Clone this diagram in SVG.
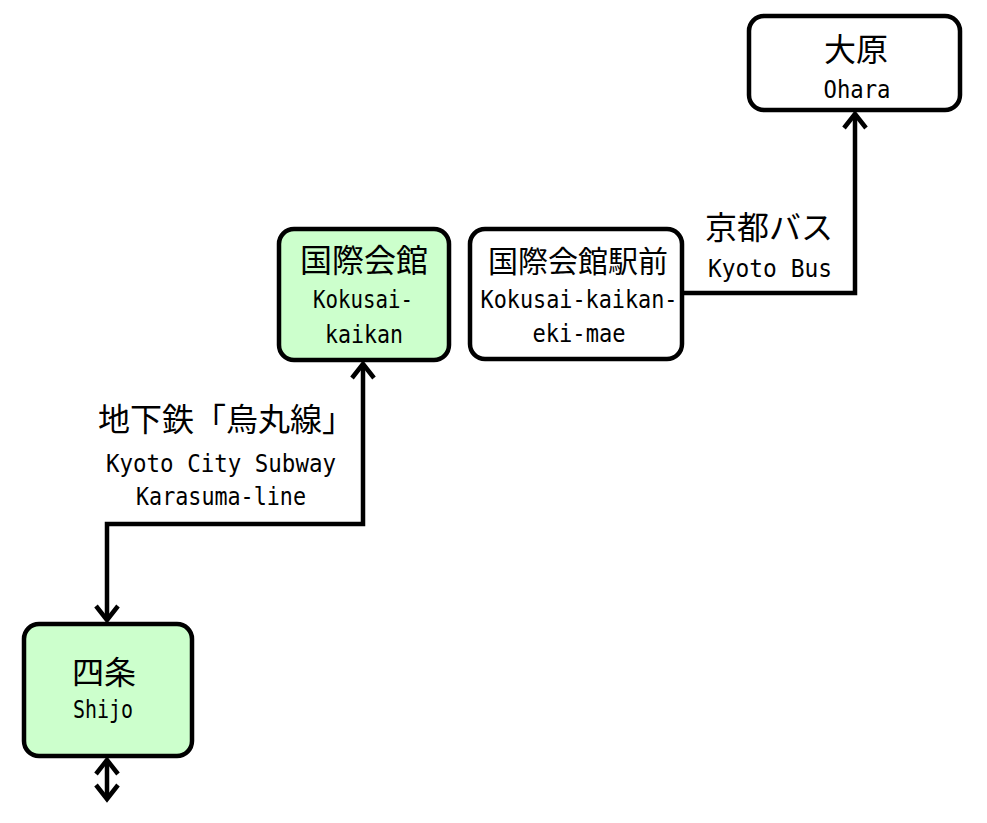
<svg xmlns="http://www.w3.org/2000/svg" width="987" height="823" viewBox="0 0 987 823">
<defs>
<style>
.box{stroke:#000;stroke-width:4.5}
.g{fill:#ccffcc}
.w{fill:#fff}
.jp{font-family:"Noto Sans CJK JP","Noto Sans CJK SC",sans-serif;font-size:32px;fill:#000;text-anchor:middle}
.en{font-family:"DejaVu Sans Mono","Liberation Mono",monospace;font-size:24.5px;fill:#000;text-anchor:middle}
.ln{fill:none;stroke:#000;stroke-width:4.5;marker-start:url(#ah);marker-end:url(#ah)}
.ln1{fill:none;stroke:#000;stroke-width:4.5;marker-end:url(#ah)}
</style>
<marker id="ah" markerUnits="userSpaceOnUse" viewBox="-20 -15 24 30" refX="0" refY="0" markerWidth="24" markerHeight="30" orient="auto-start-reverse">
<path d="M-14,-11 L0,0 L-14,11" fill="none" stroke="#000" stroke-width="4.5"/>
</marker>
</defs>
<rect width="987" height="823" fill="#fff"/>
<g id="connectors">
<path class="ln1" d="M682,293 H855 V114"/>
<path class="ln" d="M107,620 V524 H363 V364"/>
<path class="ln" d="M107,760 V799"/>
</g>
<g id="node-ohara">
<rect class="box w" x="749" y="16" width="211" height="94" rx="15"/>
<text class="jp" x="856" y="61">大原</text>
<text class="en" x="857" y="98" textLength="67" lengthAdjust="spacingAndGlyphs">Ohara</text>
</g>
<g id="node-kokusai-kaikan">
<rect class="box g" x="279" y="229" width="170" height="131" rx="15"/>
<text class="jp" x="364" y="272">国際会館</text>
<text class="en" x="363" y="308" textLength="100" lengthAdjust="spacingAndGlyphs">Kokusai-</text>
<text class="en" x="364" y="343" textLength="78" lengthAdjust="spacingAndGlyphs">kaikan</text>
</g>
<g id="node-ekimae">
<rect class="box w" x="470" y="229" width="212" height="130" rx="15"/>
<text class="jp" x="578" y="272" style="font-size:30px">国際会館駅前</text>
<text class="en" x="579" y="308" textLength="197" lengthAdjust="spacingAndGlyphs">Kokusai-kaikan-</text>
<text class="en" x="579" y="342" textLength="93" lengthAdjust="spacingAndGlyphs">eki-mae</text>
</g>
<g id="label-bus">
<text class="jp" x="769" y="239">京都バス</text>
<text class="en" x="770" y="277" textLength="124" lengthAdjust="spacingAndGlyphs">Kyoto Bus</text>
</g>
<g id="label-subway">
<text class="jp" x="226" y="431">地下鉄「烏丸線」</text>
<text class="en" x="221" y="472" textLength="230" lengthAdjust="spacingAndGlyphs">Kyoto City Subway</text>
<text class="en" x="221" y="505" textLength="170" lengthAdjust="spacingAndGlyphs">Karasuma-line</text>
</g>
<g id="node-shijo">
<rect class="box g" x="24" y="624" width="168" height="132" rx="15"/>
<text class="jp" x="104" y="684">四条</text>
<text class="en" x="103" y="718" textLength="60" lengthAdjust="spacingAndGlyphs">Shijo</text>
</g>
</svg>
